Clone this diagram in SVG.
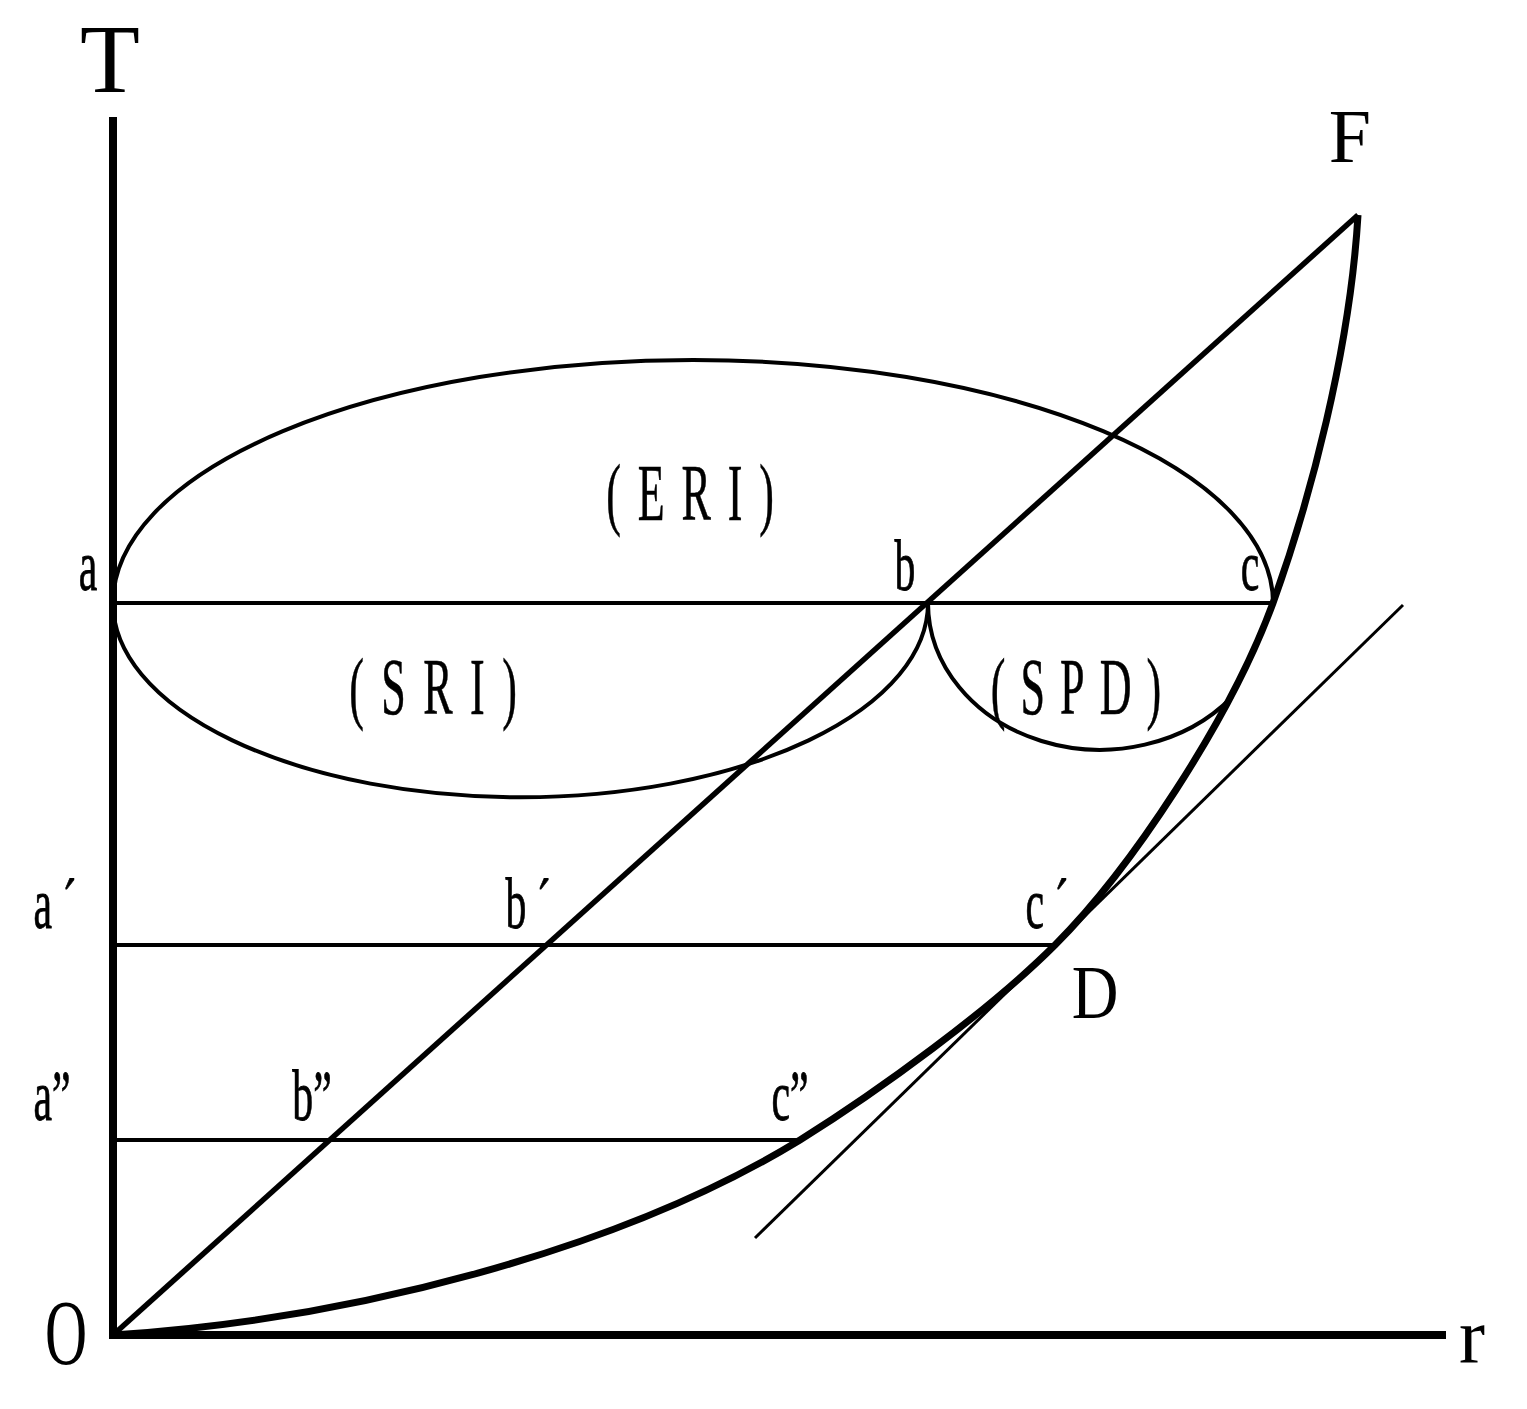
<svg xmlns="http://www.w3.org/2000/svg" width="1527" height="1409" viewBox="0 0 1527 1409">
<style>
.ln{fill:none;stroke:#000;stroke-linecap:butt}
.lb{font-family:"Liberation Serif","Times New Roman",serif;fill:#000;text-anchor:middle}
.pt{font-size:72px;stroke:#000;stroke-width:0.8px}
.rg{font-size:80px;stroke:#000;stroke-width:0.6px}
</style>
<rect width="1527" height="1409" fill="#fff"/>
<g id="connectors">
<line class="ln" x1="113" y1="117" x2="113" y2="1339" stroke-width="8"/>
<line class="ln" x1="109" y1="1335" x2="1446" y2="1335" stroke-width="8"/>
<line class="ln" x1="113" y1="1335" x2="1358" y2="215" stroke-width="5.5"/>
<line class="ln" x1="113" y1="603" x2="1273" y2="603" stroke-width="4"/>
<line class="ln" x1="113" y1="945" x2="1055" y2="945" stroke-width="4"/>
<line class="ln" x1="113" y1="1140" x2="800" y2="1140" stroke-width="4"/>
<path class="ln" d="M113,603 A580,243 0 0 1 1273,603" stroke-width="4"/>
<path class="ln" d="M113,603 A407,194 0 0 0 928,603" stroke-width="4"/>
<path class="ln" d="M928,603 A172,147 0 0 0 1232,697" stroke-width="4"/>
<path class="ln" d="M113,1335 C350,1320 620,1250 800,1140 C880,1090 990,1010 1055,945 C1130,870 1230,720 1273,603 C1310,500 1350,350 1358,215" stroke-width="7"/>
<line class="ln" x1="755" y1="1238" x2="1403" y2="605" stroke-width="3"/>
</g>
<g id="axis-labels">
<text class="lb" x="110" y="92" font-size="98">T</text>
<text class="lb" x="1350" y="162" font-size="76">F</text>
<text class="lb" transform="translate(1095,1018) scale(0.85,1)" font-size="76">D</text>
<text class="lb" transform="translate(66,1364) scale(0.62,1)" font-size="94">O</text>
<text class="lb" x="1472" y="1362" font-size="78">r</text>
</g>
<g id="point-labels">
<text class="lb pt" transform="translate(88,590) scale(0.58,1)">a</text>
<text class="lb pt" transform="translate(905,590) scale(0.58,1)">b</text>
<text class="lb pt" transform="translate(1250,590) scale(0.58,1)">c</text>
<text class="lb pt" transform="translate(55,928) scale(0.58,1)">a  ´</text>
<text class="lb pt" transform="translate(528,928) scale(0.58,1)">b  ´</text>
<text class="lb pt" transform="translate(1047,928) scale(0.58,1)">c  ´</text>
<text class="lb pt" transform="translate(52,1120) scale(0.58,1)">a”</text>
<text class="lb pt" transform="translate(312,1120) scale(0.58,1)">b”</text>
<text class="lb pt" transform="translate(790,1120) scale(0.58,1)">c”</text>
</g>
<g id="region-labels">
<text class="lb rg" transform="translate(690,520) scale(0.55,1)" textLength="305" lengthAdjust="spacing">(ERI)</text>
<text class="lb rg" transform="translate(433,714) scale(0.55,1)" textLength="305" lengthAdjust="spacing">(SRI)</text>
<text class="lb rg" transform="translate(1076,714) scale(0.55,1)" textLength="310" lengthAdjust="spacing">(SPD)</text>
</g>
</svg>
